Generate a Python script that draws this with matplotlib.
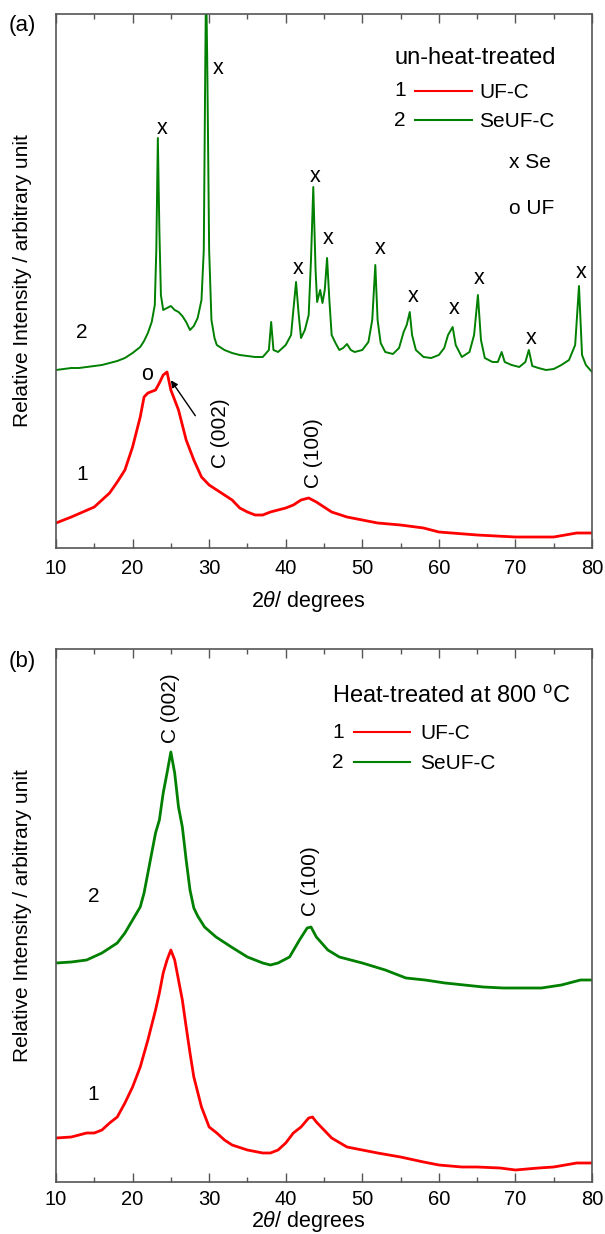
"""
XRD patterns of UF-C and SeUF-C, (a) before and (b) after heat treatment at 800 C.
Values read off the published figure (arbitrary intensity units).
"""

import matplotlib
matplotlib.use("Agg")
import matplotlib.pyplot as plt

plt.rcParams["font.family"] = ["Liberation Sans", "DejaVu Sans"]
plt.rcParams["mathtext.fontset"] = "custom"
plt.rcParams["mathtext.rm"] = "Liberation Sans"
plt.rcParams["mathtext.it"] = "Liberation Sans:italic"

# (a) un-heat-treated, UF-C
uf_a_2theta = [10, 12, 15, 17, 18, 19, 20, 21, 21.5, 22, 23, 23.5, 24, 24.5, 25, 26,
               27, 28, 29, 30, 31, 32, 33, 34, 35, 36, 37, 38, 39, 40, 41, 42, 43,
               44, 45, 46, 48, 50, 52, 55, 58, 60, 65, 70, 75, 78, 80]
uf_a_intensity = [25, 31, 41, 55, 66, 78, 101, 131, 151, 155, 158, 165, 173, 176, 158,
                  138, 108, 88, 71, 63, 58, 53, 48, 40, 36, 33, 33, 36, 38, 40, 43, 48,
                  50, 46, 41, 36, 31, 28, 25, 23, 20, 16, 13, 11, 11, 15, 15]

# (a) un-heat-treated, SeUF-C
se_a_2theta = [10, 11, 12, 13, 14, 15, 16, 17, 18, 19, 20, 21, 21.5, 22, 22.5, 22.9,
               23.1, 23.3, 23.5, 23.7, 24.0, 24.5, 25.0, 25.5, 26.0, 26.5, 27.0, 27.5,
               28.0, 28.5, 29.0, 29.3, 29.5, 29.6, 29.75, 30.0, 30.3, 30.7, 31, 32, 33,
               34, 35, 36, 37, 37.8, 38.1, 38.4, 39, 40, 40.7, 41.0, 41.35, 41.7, 42.0,
               42.5, 43.0, 43.3, 43.6, 43.9, 44.1, 44.5, 44.8, 45.1, 45.4, 45.7, 46.0,
               46.5, 47.0, 47.5, 48.0, 48.5, 49, 50, 50.8, 51.3, 51.7, 52.0, 52.4, 53,
               54, 54.8, 55.4, 55.8, 56.2, 56.5, 57, 58, 59, 60, 60.7, 61.2, 61.8, 62.2,
               63, 64, 64.6, 65.1, 65.5, 66, 67, 67.7, 68.2, 68.6, 69.5, 70.5, 71.3,
               71.75, 72.2, 73, 74, 75, 76, 77, 77.8, 78.3, 78.7, 79.2, 80]
se_a_intensity = [178, 179, 180, 180, 181, 182, 183, 185, 187, 190, 195, 201, 207, 215,
                  226, 243, 298, 410, 318, 253, 238, 240, 242, 238, 236, 232, 226, 218,
                  222, 230, 248, 298, 488, 568, 488, 298, 228, 210, 203, 198, 195, 193,
                  192, 191, 191, 198, 226, 198, 196, 203, 213, 238, 266, 233, 210, 218,
                  233, 288, 361, 278, 246, 258, 245, 258, 290, 248, 213, 205, 198, 200,
                  204, 198, 196, 198, 206, 228, 283, 228, 205, 196, 194, 200, 216, 223,
                  236, 213, 198, 191, 190, 193, 200, 213, 221, 203, 191, 196, 213, 253,
                  208, 190, 186, 186, 196, 186, 183, 181, 186, 198, 182, 180, 178, 179,
                  183, 188, 203, 262, 193, 183, 176]

# (b) heat-treated at 800 C, UF-C
uf_b_2theta = [10, 12, 14, 15, 16, 17, 18, 19, 20, 21, 22, 23, 23.5, 24, 24.5, 25, 25.5,
               26, 26.5, 27, 27.5, 28, 29, 30, 31, 32, 33, 35, 37, 38, 39, 40, 41, 42,
               43, 43.5, 44, 45, 46, 48, 50, 52, 55, 58, 60, 63, 65, 68, 70, 73, 75,
               78, 80]
uf_b_intensity = [44, 45, 49, 49, 52, 59, 65, 79, 95, 115, 142, 172, 189, 209, 222, 232,
                  222, 202, 182, 155, 129, 105, 75, 55, 49, 42, 37, 32, 29, 29, 32, 39,
                  49, 55, 64, 65, 60, 52, 44, 35, 32, 29, 25, 20, 17, 15, 15, 14, 12,
                  14, 15, 19, 19]

# (b) heat-treated at 800 C, SeUF-C
se_b_2theta = [10, 12, 14, 16, 18, 19, 20, 21, 21.5, 22, 23, 23.5, 24, 24.5, 25, 25.5,
               26, 26.5, 27, 27.5, 28, 28.5, 29.4, 30.9, 32.9, 35, 37, 38, 39, 40.5,
               41.8, 42.8, 43.3, 44, 45.5, 47, 50, 53, 55.7, 58.2, 60.8, 63.3, 65.8,
               68.4, 70.9, 73.4, 76, 78.5, 80]
se_b_intensity = [219, 220, 222, 229, 239, 249, 262, 275, 289, 309, 349, 362, 389, 409,
                  430, 409, 375, 355, 322, 292, 274, 266, 255, 245, 235, 225, 219, 217,
                  219, 225, 242, 254, 255, 245, 232, 225, 219, 212, 204, 202, 199, 197,
                  195, 194, 194, 194, 197, 202, 202]

RED = "#ff0000"
GREEN = "#008000"
SPINE = "#555555"


def style_axes(ax, label_pad):
    """
    Common frame, ticks and axis labels for both panels.
    """
    ax.set_xlim(10, 80)
    ax.set_ylim(0, 534)
    ax.set_xticks(range(10, 81, 10))
    ax.set_xticks(range(15, 80, 10), minor=True)
    ax.set_yticks([])
    ax.tick_params(axis="x", which="both", direction="in", top=True,
                   color=SPINE, width=1.0, labelsize=14.5, pad=label_pad)
    ax.tick_params(axis="x", which="major", length=6.5)
    ax.tick_params(axis="x", which="minor", length=3.8)
    for spine in ax.spines.values():
        spine.set_color(SPINE)
        spine.set_linewidth(1.2)
    ax.set_ylabel("Relative Intensity / arbitrary unit", fontsize=15)
    ax.yaxis.label.set_va("center")
    ax.yaxis.set_label_coords(-0.062, 0.5)
    ax.set_xlabel("2$\\theta$/ degrees", fontsize=15.5)
    ax.xaxis.label.set_va("center")


def plot_panel_a(ax):
    """
    Un-heat-treated samples with Se and UF reflections marked.
    """
    uf, = ax.plot(uf_a_2theta, uf_a_intensity, color=RED, lw=2.0)
    se, = ax.plot(se_a_2theta, se_a_intensity, color=GREEN, lw=1.4)
    style_axes(ax, 8)
    ax.xaxis.set_label_coords(0.47, -0.101)

    # Se peak marks
    for x, y in [(23.8, 420), (31.2, 480), (41.6, 279), (43.9, 372), (45.6, 309),
                 (52.3, 300), (56.6, 251), (62.0, 240), (65.3, 270), (72.05, 210),
                 (78.6, 276)]:
        ax.text(x, y, "x", fontsize=15.5, ha="center", va="center")

    ax.text(21.9, 173, "o", fontsize=15.5, ha="center", va="center")
    ax.annotate("", xy=(24.8, 170), xytext=(28.4, 130),
                arrowprops=dict(arrowstyle="-|>", color="black", lw=1,
                                mutation_scale=10))
    ax.text(31.5, 115, "C (002)", fontsize=15, rotation=90, ha="center", va="center")
    ax.text(43.6, 95, "C (100)", fontsize=15, rotation=90, ha="center", va="center")
    ax.text(13.4, 216, "2", fontsize=15, ha="center", va="center")
    ax.text(13.4, 73, "1", fontsize=15, ha="center", va="center")

    # Legend block
    ax.text(54.2, 490, "un-heat-treated", fontsize=17, ha="left", va="center")
    ax.text(54.2, 458, "1", fontsize=15, ha="left", va="center")
    ax.text(54.2, 428, "2", fontsize=15, ha="left", va="center")
    leg = ax.legend([uf, se], ["UF-C", "SeUF-C"], loc="upper left",
                    bbox_to_anchor=(0.669, 0.8706), frameon=False, fontsize=15,
                    handlelength=2.76, handletextpad=0.34, labelspacing=0.48,
                    borderpad=0, borderaxespad=0)
    for line in leg.get_lines():
        line.set_linewidth(1.5)
    ax.text(69.1, 385, "x Se", fontsize=15, ha="left", va="center")
    ax.text(69.1, 339, "o UF", fontsize=15, ha="left", va="center")


def plot_panel_b(ax):
    """
    Samples heat-treated at 800 C: only broad carbon reflections remain.
    """
    uf, = ax.plot(uf_b_2theta, uf_b_intensity, color=RED, lw=2.0)
    se, = ax.plot(se_b_2theta, se_b_intensity, color=GREEN, lw=2.0)
    style_axes(ax, 6)
    ax.set_ylim(0, 533)
    ax.xaxis.set_label_coords(0.47, -0.075)

    ax.text(25.0, 474, "C (002)", fontsize=15, rotation=90, ha="center", va="center")
    ax.text(43.3, 301, "C (100)", fontsize=15, rotation=90, ha="center", va="center")
    ax.text(14.9, 285, "2", fontsize=15, ha="center", va="center")
    ax.text(14.9, 87, "1", fontsize=15, ha="center", va="center")

    ax.text(46.1, 485, "Heat-treated at 800 $^{\\mathregular{o}}$C", fontsize=17,
            ha="left", va="center")
    ax.text(46.1, 450, "1", fontsize=15, ha="left", va="center")
    ax.text(46.1, 419, "2", fontsize=15, ha="left", va="center")
    leg = ax.legend([uf, se], ["UF-C", "SeUF-C"], loc="upper left",
                    bbox_to_anchor=(0.556, 0.8595), frameon=False, fontsize=15,
                    handlelength=2.69, handletextpad=0.48, labelspacing=0.55,
                    borderpad=0, borderaxespad=0)
    for line in leg.get_lines():
        line.set_linewidth(1.5)


if __name__ == "__main__":
    fig = plt.figure(figsize=(6.05, 12.34), dpi=100)
    ax_a = fig.add_axes([56 / 605, 686 / 1234, 536 / 605, 534 / 1234])
    ax_b = fig.add_axes([56 / 605, 52 / 1234, 536 / 605, 533 / 1234])

    plot_panel_a(ax_a)
    plot_panel_b(ax_b)

    fig.text(22 / 605, 1 - 25 / 1234, "(a)", fontsize=16, ha="center", va="center")
    fig.text(22 / 605, 1 - 662 / 1234, "(b)", fontsize=16, ha="center", va="center")

    fig.savefig("out.png", dpi=100)
